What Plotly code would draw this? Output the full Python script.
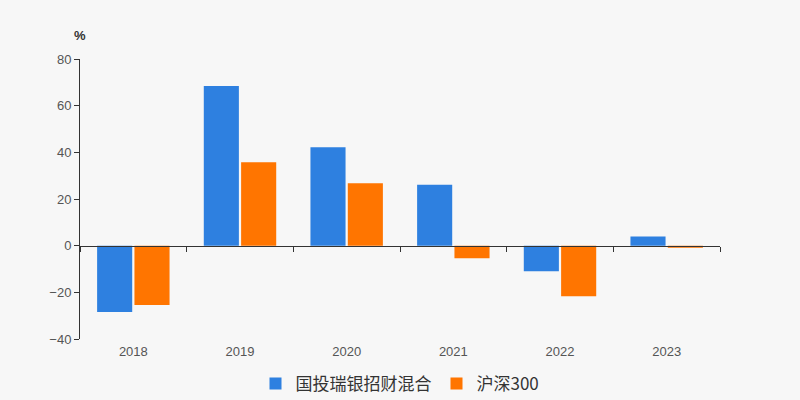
import plotly.graph_objects as go

years = ["2018", "2019", "2020", "2021", "2022", "2023"]
fund_name = "国投瑞银招财混合"
bench_name = "沪深300"
fund_values = [-28.4, 68.4, 42.2, 26.1, -11.0, 3.9]
bench_values = [-25.4, 35.8, 26.8, -5.4, -21.7, -0.9]
y_ticks = [-40, -20, 0, 20, 40, 60, 80]

blue = "#2e80e0"
orange = "#ff7500"
bg = "#f7f7f7"
axis_color = "#333333"
label_color = "#555555"
num_font = "Liberation Sans, Arial, sans-serif"

xs = list(range(len(years)))

fig = go.Figure()
fig.add_trace(go.Bar(x=xs, y=fund_values, name=fund_name, marker=dict(color=blue, line=dict(width=0))))
fig.add_trace(go.Bar(x=xs, y=bench_values, name=bench_name, marker=dict(color=orange, line=dict(width=0))))

# invisible trace to activate the zero-positioned category axis
fig.add_trace(go.Scatter(x=[xs[0]], y=[0], xaxis="x2", mode="markers",
                         marker=dict(opacity=0), showlegend=False, hoverinfo="skip"))

boundaries = [i - 0.5 for i in range(len(years) + 1)]
ymin, ymax = y_ticks[0], y_ticks[-1]

fig.update_layout(
    width=800, height=400,
    paper_bgcolor=bg, plot_bgcolor=bg,
    margin=dict(l=80, r=80, t=59, b=61, autoexpand=False),
    barmode="group", bargap=0.3, bargroupgap=0.06,
    font=dict(family="Noto Sans CJK SC, DejaVu Sans, sans-serif", color=axis_color),
    xaxis=dict(
        range=[-0.5, len(years) - 0.5],
        tickvals=xs, ticktext=years,
        showline=False, showgrid=False, zeroline=False,
        ticks="", tickfont=dict(size=13, color=label_color, family=num_font),
        ticklabelstandoff=3,
    ),
    xaxis2=dict(
        overlaying="x", anchor="free",
        position=(0 - ymin) / (ymax - ymin),
        range=[-0.5, len(years) - 0.5],
        tickvals=boundaries, showticklabels=False,
        showline=True, linecolor=axis_color, linewidth=1,
        ticks="outside", ticklen=5, tickcolor=axis_color,
        showgrid=False, zeroline=False,
    ),
    yaxis=dict(
        range=[ymin, ymax], tickvals=y_ticks,
        ticktext=[("−" + str(abs(v))) if v < 0 else str(v) for v in y_ticks],
        showline=True, linecolor=axis_color, linewidth=1,
        ticks="outside", ticklen=5, tickcolor=axis_color,
        showgrid=False, zeroline=False,
        tickfont=dict(size=13, color=label_color, family=num_font),
    ),
    legend=dict(
        orientation="h", x=0.5, xanchor="center",
        yref="container", y=0.04, yanchor="middle",
        font=dict(size=17, color=axis_color), bgcolor="rgba(0,0,0,0)",
        itemwidth=30,
    ),
    annotations=[dict(
        text="<b>%</b>", xref="paper", yref="paper", x=0, y=1, xanchor="center", yanchor="bottom",
        yshift=14, showarrow=False, font=dict(size=13, color=axis_color, family=num_font),
    )],
    showlegend=True,
)

fig.write_html("out.html", config={"displayModeBar": False},
               post_script="document.body.style.margin='0';document.body.style.background='#f7f7f7';")
